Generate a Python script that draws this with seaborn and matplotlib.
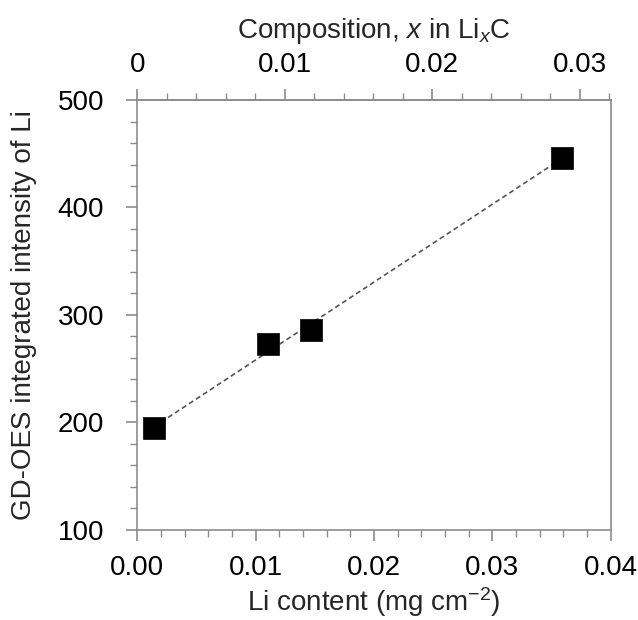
import matplotlib
matplotlib.use("Agg")
import matplotlib.pyplot as plt
import seaborn as sns
import numpy as np
import pandas as pd

# Data
li_content = [0.00143, 0.01102, 0.01468, 0.03586]   # mg cm^-2
intensity = [194.7, 272.8, 285.9, 445.8]
x_ticks = [0.00, 0.01, 0.02, 0.03, 0.04]
x_ticklabels = ["0.00", "0.01", "0.02", "0.03", "0.04"]
y_ticks = [100, 200, 300, 400, 500]
top_ticks = [0, 0.01, 0.02, 0.03]
top_ticklabels = ["0", "0.01", "0.02", "0.03"]
comp_per_content = 0.0321 / 0.04   # conversion to composition x in LixC

sns.set_theme(style="white")
plt.rcParams['font.family'] = ['Liberation Sans', 'DejaVu Sans']
plt.rcParams['mathtext.fontset'] = 'custom'
plt.rcParams['mathtext.rm'] = 'Liberation Sans'
plt.rcParams['mathtext.it'] = 'Liberation Sans:italic'

df = pd.DataFrame({"x": li_content, "y": intensity})

fig = plt.figure(figsize=(6.38, 6.20), dpi=100)
ax = fig.add_axes([0.2152, 0.1452, 0.742, 0.6935])

sns.regplot(data=df, x="x", y="y", ax=ax, ci=None, scatter=False, truncate=True,
            line_kws=dict(color="#555555", lw=1.2, ls=(0, (3, 2))))
sns.scatterplot(data=df, x="x", y="y", ax=ax, marker="s", s=235, color="black",
                edgecolor="black", linewidth=0.5, zorder=3)

ax.set_xlim(0, 0.04)
ax.set_ylim(100, 500)
ax.set_xticks(x_ticks)
ax.set_xticklabels(x_ticklabels)
ax.set_yticks(y_ticks)
ax.set_xticks(np.arange(0, 0.0401, 0.002), minor=True)
ax.set_yticks(np.arange(100, 501, 20), minor=True)

spine_col = "#8c8c8c"
for s in ax.spines.values():
    s.set_color(spine_col)
    s.set_linewidth(1.2)

FS = 20
ax.tick_params(axis='both', which='both', direction='out', color=spine_col,
               labelsize=FS, labelcolor='black', bottom=True, left=True)
ax.tick_params(which='major', length=8, width=1.2)
ax.tick_params(which='minor', length=5, width=1.0)
ax.tick_params(axis='x', which='major', pad=10)
ax.tick_params(axis='y', which='major', pad=16)

ax.set_xlabel("Li content (mg cm$^{\\mathregular{-2}}$)", fontsize=FS, labelpad=3)
ax.set_ylabel("GD-OES integrated intensity of Li", fontsize=FS, labelpad=15)

sec = ax.secondary_xaxis('top', functions=(lambda v: v * comp_per_content,
                                           lambda v: v / comp_per_content))
sec.set_xticks(top_ticks)
sec.set_xticklabels(top_ticklabels)
sec.set_xticks(np.arange(0, 0.0321, 0.002), minor=True)
sec.spines['top'].set_color(spine_col)
sec.spines['top'].set_linewidth(1.2)
sec.tick_params(axis='x', which='both', direction='out', color=spine_col,
                labelsize=FS, labelcolor='black')
sec.tick_params(which='major', length=8, width=1.2, pad=8)
sec.tick_params(which='minor', length=5, width=1.0)
sec.set_xlabel(r"Composition, $\it{x}$ in Li$_{\it{x}}$C", fontsize=FS, labelpad=10)

fig.savefig("out.png", dpi=100)
